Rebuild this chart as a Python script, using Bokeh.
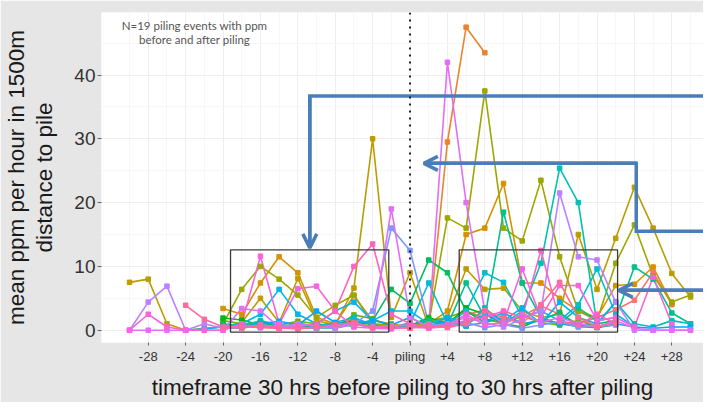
import math
from bokeh.plotting import figure
from bokeh.models import Range1d, FixedTicker, BoxAnnotation, Arrow, OpenHead, Label, Span
from bokeh.embed import file_html
from bokeh.resources import INLINE

N = None
hours = list(range(-30, 31, 2))

s01 = [N, N, N, N, N, 0.5, 1.0, 0.4, 0.3, 1.2, 0.5, 0.8, 1.8, 0.9, 0.4, 1.2, 0.3, 1.0, 2.4, 3.2, 1.5, 2.2, 3.8, 2.5, 1.0, 2.0, 3.2, 4.7, 9.1, 4.0, N]
s02 = [N, N, N, N, N, 0.2, 0.5, 0.6, 1.0, 0.4, 0.3, 0.6, 1.2, 0.5, 0.3, 0.4, 0.5, 29.5, 47.5, 43.5, N, N, N, N, N, N, N, N, N, N, N]
s03 = [N, N, N, N, N, 3.4, 2.5, 7.4, 11.5, 9.0, 2.0, 1.0, 5.4, 1.5, 1.0, 0.5, 1.0, 3.0, 15.0, 16.0, 23.0, 7.4, 7.4, 5.0, 3.0, 2.0, 7.0, 7.2, 9.9, 4.2, N]
s04 = [7.5, 8.0, 1.0, 0.0, 0.3, 0.5, 1.2, 5.0, 1.2, 8.1, 1.5, 0.8, 6.6, 30.0, 2.0, 9.0, 0.5, 2.0, 9.6, 6.4, 6.6, 3.0, 2.0, 2.5, 15.0, 6.4, 14.4, 22.4, 16.0, 8.9, 5.2]
s05 = [N, N, N, N, N, 1.0, 6.4, 10.0, 8.0, 5.5, 2.0, 3.9, 5.5, 1.0, 0.8, 0.5, 1.0, 17.6, 16.0, 37.5, 16.0, 14.0, 23.5, 11.5, 3.0, 1.5, 10.5, 16.5, 8.5, 4.4, 5.5]
s06 = [N, N, N, N, N, 1.5, 1.0, 0.5, 0.8, 1.4, 1.0, 0.5, 2.4, 1.8, 0.6, 0.6, 1.5, 2.0, 3.0, 1.8, 1.0, 2.2, 1.2, 0.8, 1.5, 0.6, 1.2, N, N, N, N]
s07 = [N, N, N, N, N, 1.9, 1.6, 0.8, 0.4, 0.6, 0.3, 0.9, 1.5, 0.8, 0.5, 0.7, 2.0, 1.0, 3.5, 2.5, 1.0, 0.5, 1.8, 1.0, 0.6, 0.4, 0.9, N, N, N, N]
s08 = [N, N, N, N, N, 1.0, 0.6, 1.2, 0.5, 0.3, 0.8, 1.0, 0.6, 1.5, 6.4, 4.2, 11.0, 9.0, 3.0, 1.2, 2.0, 1.0, 1.5, 2.8, 0.6, 1.0, 1.5, N, N, N, N]
s09 = [N, N, N, N, N, 0.5, 0.8, 1.4, 0.6, 0.4, 1.0, 0.5, 0.9, 0.6, 0.4, 0.8, 1.5, 0.8, 7.4, 2.0, 18.5, 7.4, 2.0, 1.0, 3.5, 1.5, 2.0, 9.9, 8.0, 2.7, 1.0]
s10 = [N, N, N, N, N, 0.3, 0.5, 1.5, 0.8, 0.5, 0.4, 0.3, 1.0, 0.4, 0.6, 0.5, 0.8, 1.2, 0.6, 3.5, 1.0, 3.0, 10.5, 25.4, 20.0, 1.0, 4.4, 1.0, 0.5, 1.5, 1.0]
s11 = [N, N, N, N, N, 0.4, 0.3, 0.9, 0.5, 1.0, 0.6, 1.2, 2.0, 0.8, 0.5, 1.0, 7.4, 1.0, 3.0, 9.0, 7.5, 2.0, 3.0, 1.5, 4.0, 9.6, 2.5, 0.6, N, N, N]
s12 = [N, N, N, 0.0, 0.2, 0.5, 1.0, 2.5, 6.4, 2.5, 1.0, 3.0, 4.4, 1.5, 3.0, 3.0, 1.0, 2.0, 1.0, 2.5, 1.5, 3.5, 1.0, 4.4, 2.0, 1.0, 4.4, N, N, N, N]
s13 = [N, N, N, N, N, 0.6, 0.4, 1.0, 1.4, 0.8, 3.0, 1.2, 0.9, 1.6, 0.8, 2.0, 0.6, 1.5, 0.7, 1.2, 2.8, 0.9, 1.6, 1.0, 0.8, 0.5, 1.0, 0.5, 0.3, 0.5, 0.5]
s14 = [N, N, N, N, N, 0.3, 0.6, 0.4, 0.9, 0.5, 0.3, 0.7, 1.0, 3.0, 16.0, 12.5, 1.0, 0.6, 1.2, 0.4, 0.9, 0.3, 0.8, 1.3, 0.5, 0.6, 0.8, N, N, N, N]
s15 = [0.0, 4.4, 6.9, 0.0, 1.0, 0.3, 0.5, 0.8, 0.4, 1.0, 0.6, 0.3, 0.9, 0.5, 0.7, 0.8, 0.4, 1.0, 2.0, 1.2, 0.5, 1.8, 3.0, 21.5, 11.5, 11.0, 4.4, 0.0, 0.0, 0.0, 0.0]
s16 = [0.0, 0.0, 0.0, 0.0, 0.0, 0.0, 3.4, 3.0, 0.5, 0.3, 0.4, 0.6, 1.0, 0.5, 19.0, 2.0, 0.5, 42.0, 20.0, 3.0, 1.0, 2.5, 1.2, 2.0, 1.0, 0.5, 1.5, 0.3, 0.0, 0.0, 0.0]
s17 = [0.0, 2.5, 0.5, 0.0, 0.0, 0.0, 1.0, 11.6, 1.0, 6.5, 6.9, 3.0, 0.5, 0.3, 0.2, 0.5, 0.3, 0.6, 2.5, 0.8, 1.2, 9.6, 2.0, 7.0, 7.0, 1.5, 2.0, 0.5, 8.3, 1.0, N]
s18 = [N, N, N, N, N, 0.4, 0.8, 0.5, 0.3, 0.6, 1.0, 3.0, 10.0, 13.5, 2.5, 1.0, 0.4, 0.8, 1.5, 2.0, 3.0, 2.0, 12.5, 1.5, 0.8, 2.5, 1.0, N, N, N, N]
s19 = [N, N, N, 3.9, 1.7, 0.5, 0.3, 0.8, 0.4, 0.2, 0.5, 0.9, 1.2, 0.4, 0.6, 0.3, 0.8, 0.4, 1.0, 3.0, 2.0, 1.0, 4.0, 7.5, 2.0, 0.5, 1.2, N, N, N, N]

series = [s01, s02, s03, s04, s05, s06, s07, s08, s09, s10,
          s11, s12, s13, s14, s15, s16, s17, s18, s19]

tick_vals = [-28, -24, -20, -16, -12, -8, -4, 0, 4, 8, 12, 16, 20, 24, 28]
tick_labels = ["-28", "-24", "-20", "-16", "-12", "-8", "-4", "piling",
               "+4", "+8", "+12", "+16", "+20", "+24", "+28"]
y_ticks = [0, 10, 20, 30, 40]

x_title = "timeframe 30 hrs before piling to 30 hrs after piling"
y_title = "mean ppm per hour in 1500m\ndistance to pile"
note_1 = "N=19 piling events with ppm"
note_2 = "before and after piling"


def hcl_hex(h, c=100.0, l=65.0):
    hr = math.radians(h)
    u = c * math.cos(hr)
    v = c * math.sin(hr)
    Xn, Yn, Zn = 95.047, 100.0, 108.883
    Y = Yn * ((l + 16) / 116) ** 3
    den = Xn + 15 * Yn + 3 * Zn
    un = 4 * Xn / den
    vn = 9 * Yn / den
    up = u / (13 * l) + un
    vp = v / (13 * l) + vn
    X = 9.0 * Y * up / (4 * vp)
    Z = -X / 3 - 5 * Y + 3 * Y / vp
    r = (3.240479 * X - 1.537150 * Y - 0.498535 * Z) / 100
    g = (-0.969256 * X + 1.875992 * Y + 0.041556 * Z) / 100
    b = (0.055648 * X - 0.204043 * Y + 1.057311 * Z) / 100

    def gam(t):
        t = 12.92 * t if t <= 0.0031308 else 1.055 * t ** (1 / 2.4) - 0.055
        return int(round(max(0.0, min(1.0, t)) * 255))
    return "#%02X%02X%02X" % (gam(r), gam(g), gam(b))


n = len(series)
colors = [hcl_hex(15 + i * 360.0 / n) for i in range(n)]

p = figure(width=703, height=402, output_backend="svg", toolbar_location=None,
           x_range=Range1d(-33, 31.39), y_range=Range1d(-1.93, 49.8),
           min_border_left=101, min_border_right=0, min_border_top=12, min_border_bottom=59)
p.background_fill_color = "white"
p.border_fill_color = "#E6E6E6"
p.outline_line_color = None

# grid
p.xaxis.ticker = FixedTicker(ticks=tick_vals, minor_ticks=list(range(-30, 31, 4)))
p.yaxis.ticker = FixedTicker(ticks=y_ticks, minor_ticks=[5, 15, 25, 35, 45])
p.xgrid.grid_line_color = "#EEEEEE"
p.ygrid.grid_line_color = "#EEEEEE"
p.xgrid.minor_grid_line_color = "#F7F7F7"
p.ygrid.minor_grid_line_color = "#F7F7F7"

# axes
p.xaxis.major_label_overrides = {v: l for v, l in zip(tick_vals, tick_labels)}
for ax in (p.xaxis, p.yaxis):
    ax.axis_line_color = None
    ax.minor_tick_line_color = None
    ax.minor_tick_in = 0
    ax.minor_tick_out = 0
    ax.major_tick_line_color = "#666666"
    ax.major_tick_in = 0
    ax.major_label_text_font = "Liberation Sans"
    ax.major_label_text_color = "#333333"
    ax.axis_label_text_font = "Liberation Sans"
    ax.axis_label_text_font_style = "normal"
    ax.axis_label_text_color = "#1A1A1A"
    ax.axis_label_text_font_size = "22.5px"

p.xaxis.major_tick_out = 3
p.xaxis.major_label_text_font_size = "13px"
p.xaxis.major_label_standoff = 3
p.xaxis.axis_label = x_title
p.xaxis.axis_label_standoff = 8

p.yaxis.major_tick_out = 4
p.yaxis.major_label_text_font_size = "19px"
p.yaxis.major_label_standoff = 2
p.yaxis.axis_label = y_title
p.yaxis.axis_label_standoff = 14
p.yaxis.axis_label_text_line_height = 1.15

# data
clean = [[float("nan") if v is None else v for v in s] for s in series]
for ys, col in zip(clean, colors):
    p.line(hours, ys, line_color=col, line_width=1.6)
for ys, col in zip(clean, colors):
    p.scatter(hours, ys, marker="square", size=4.5, fill_color=col, line_color=col)

# piling line
p.add_layout(Span(location=0, dimension="height", line_color="#222222",
                  line_dash="2 5", line_width=2))

# boxes
for lft, rgt in ((-19.2, -2.27), (5.26, 22.2)):
    p.add_layout(BoxAnnotation(left=lft, right=rgt, bottom=-0.3, top=12.6,
                               fill_alpha=0, line_alpha=1.0, line_color="#3A3A3A",
                               line_width=1.3))

# arrows
blue = "#4A7EBB"
paths = [
    ([33, -10.72, -10.72], [36.7, 36.7, 12.9]),
    ([33, 24.2, 24.2, 1.48], [15.5, 15.5, 26.15, 26.15]),
    ([33, 22.33], [6.25, 6.25]),
]
for xs, ys in paths:
    p.line(xs, ys, line_color=blue, line_width=3.5, line_join="miter")
    head = OpenHead(size=14, line_width=3.5, line_color=blue)
    p.add_layout(Arrow(end=head, x_start=xs[-2], y_start=ys[-2], x_end=xs[-1], y_end=ys[-1],
                       line_color=blue, line_width=3.5))

# note
for txt, yy in ((note_1, 47.77), (note_2, 45.58)):
    p.add_layout(Label(x=-23.05, y=yy, text=txt, text_align="center", text_baseline="middle",
                       text_font="Lato", text_font_size="11.5px", text_color="#555555"))

open("out.html", "w").write(file_html(p, INLINE))
